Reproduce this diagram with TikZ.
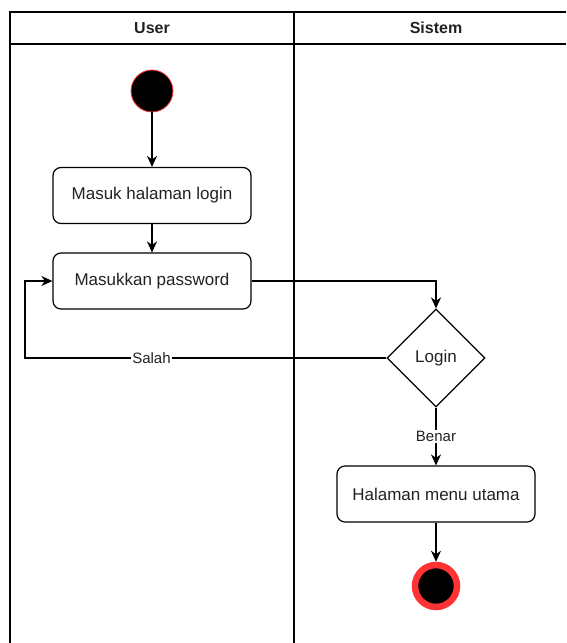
\documentclass[tikz,border=0pt]{standalone}
\usepackage{fontspec}
\setmainfont{Liberation Sans}
\usetikzlibrary{arrows.meta,shapes.geometric}
\definecolor{redring}{HTML}{FF3333}
\definecolor{txt}{HTML}{222222}
\begin{document}
\begin{tikzpicture}[x=1pt,y=-1pt,
  every node/.style={text=txt},
  act/.style={draw, line width=1.2pt, rounded corners=8pt, minimum width=198pt, minimum height=56pt, inner sep=0pt, font=\fontsize{17}{20}\selectfont},
  dec/.style={draw, line width=1.2pt, diamond, aspect=1, minimum width=98pt, minimum height=98pt, inner sep=0pt, font=\fontsize{17}{20}\selectfont},
  lane/.style={line width=1.1pt},
  flow/.style={line width=1.2pt, -{Stealth[length=11pt,width=10pt,inset=3.5pt]}},
  lbl/.style={fill=white, inner sep=1pt, font=\fontsize{15}{18}\selectfont},
  hdr/.style={font=\bfseries\fontsize{16}{19}\selectfont}
]
\useasboundingbox (0,0) rectangle (566,643);
% pool
\draw[lane] (566,12) -- (10,12) -- (10,643);
\draw[lane] (10,44) -- (566,44);
\draw[lane] (294,12) -- (294,643);
\node[hdr] (hu) at (152,28) {User};
\node[hdr] (hs) at (436,28) {Sistem};
% nodes
\node[circle, fill=black, draw=redring, line width=0.8pt, minimum size=42pt, inner sep=0pt] (start) at (152,91) {};
\node[act] (b1) at (152,195.5) {Masuk halaman login};
\node[act] (b2) at (152,281) {Masukkan password};
\node[dec] (login) at (436,358) {Login};
\node[act] (b3) at (436,494) {Halaman menu utama};
\node[circle, fill=black, draw=redring, line width=6.5pt, minimum size=42pt, inner sep=0pt] (end) at (436,586) {};
\coordinate (lp) at (25,358);
% edges
\draw[flow] (start) -- (b1);
\draw[flow] (b1) -- (b2);
\draw[flow] (b2.east) -| (login.north);
\draw[flow] (login.west) -- node[lbl, pos=0.65] {Salah} (lp) |- (b2.west);
\draw[flow] (login.south) -- node[lbl, pos=0.5] {Benar} (b3.north);
\draw[flow] (b3) -- (end);
\end{tikzpicture}
\end{document}
